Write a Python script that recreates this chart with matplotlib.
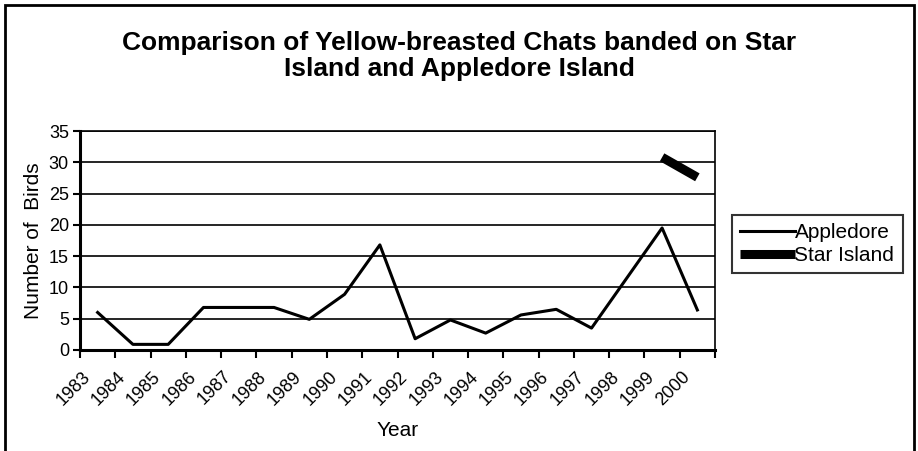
import numpy as np
import matplotlib.pyplot as plt
from matplotlib.patches import Rectangle

plt.rcParams['font.family'] = ['Liberation Sans', 'DejaVu Sans']

anos = [str(a) for a in range(1983, 2001)]
appledore = [6, 0.9, 0.9, 6.8, 6.8, 6.8, 4.9, 8.9, 16.8, 1.8, 4.8, 2.7,
             5.6, 6.5, 3.5, 11.5, 19.5, 6.4]
star_island = [np.nan] * 16 + [30.8, 27.6]

fig = plt.figure(figsize=(9.18, 4.51), dpi=100)
ax = fig.add_axes([80 / 918, 1 - 350 / 451, 635 / 918, 219 / 451])

x = np.arange(len(anos))
ax.plot(x, appledore, color='black', linewidth=2.2, label='Appledore')
ax.plot(x, star_island, color='black', linewidth=6.5, label='Star Island',
        solid_capstyle='butt')

ax.set_xlim(-0.5, len(anos) - 0.5)
ax.set_ylim(0, 35)
ax.set_yticks(range(0, 36, 5))
ax.yaxis.grid(True, color='black', linewidth=1.2)
ax.set_axisbelow(True)

# ticks entre as categorias (estilo Excel)
ax.set_xticks(np.arange(-0.5, len(anos), 1.0))
ax.set_xticklabels([])
ax.tick_params(axis='x', length=6, width=1.5, direction='out')
ax.tick_params(axis='y', length=5, width=1.5, labelsize=13, pad=3)

# rótulos dos anos inclinados, um pouco à esquerda do centro da categoria
for i, ano in enumerate(anos):
    ax.annotate(ano, xy=(i, 0), xycoords=ax.get_xaxis_transform(),
                xytext=(-16, -18), textcoords='offset pixels',
                rotation=45, ha='right', va='top', rotation_mode='anchor',
                fontsize=13, annotation_clip=False)

for lado in ['left', 'bottom']:
    ax.spines[lado].set_linewidth(2.2)
for lado in ['right', 'top']:
    ax.spines[lado].set_linewidth(1.2)

ax.set_ylabel('Number of  Birds', fontsize=15, labelpad=4)
ax.set_xlabel('Year', fontsize=15)
ax.xaxis.set_label_coords(0.5, -0.325)

fig.text(0.5, 1 - 56 / 451, 'Comparison of Yellow-breasted Chats banded on Star\nIsland and Appledore Island',
         ha='center', va='center', fontsize=19, fontweight='bold', linespacing=1.12)

leg = ax.legend(loc='center left', bbox_to_anchor=(732 / 918, 1 - 244 / 451),
                bbox_transform=fig.transFigure, frameon=True, fancybox=False,
                edgecolor='black', fontsize=15, handlelength=2.6,
                handletextpad=0.0, borderpad=0.4, labelspacing=0.2,
                borderaxespad=0)
leg.get_frame().set_linewidth(1.5)

# borda da área do gráfico
fig.patches.append(Rectangle((5 / 918, -0.05), 909 / 918, 1 - 5 / 451 + 0.05,
                             transform=fig.transFigure, fill=False,
                             edgecolor='black', linewidth=2))

fig.savefig('out.png', dpi=100)
